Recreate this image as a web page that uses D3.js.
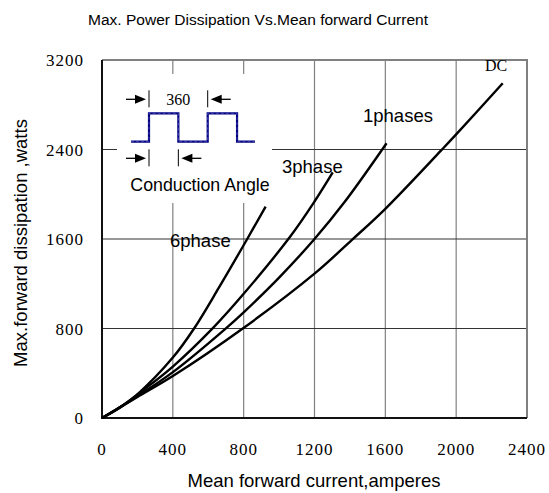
<!DOCTYPE html>
<html>
<head>
<meta charset="utf-8">
<script src="https://cdn.jsdelivr.net/npm/d3@7"></script>
<style>
  body { margin: 0; background: #fff; }
</style>
</head>
<body>
<svg id="chart" width="549" height="493"></svg>
<script>
// curves: [current A, dissipation W]
const phase6 = [[0, 0], [100, 92], [200, 212], [400, 540], [520, 800], [660, 1165], [820, 1600], [924, 1890]];
const phase3 = [[0, 0], [100, 95], [200, 210], [400, 460], [630, 810], [800, 1110], [1062, 1620], [1200, 1935], [1303, 2195]];
const phase1 = [[0, 0], [100, 94], [200, 195], [400, 410], [695, 795], [800, 945], [1000, 1255], [1200, 1600], [1372, 1935], [1607, 2456]];
const dc = [[0, 0], [100, 93], [200, 188], [400, 375], [795, 800], [1200, 1290], [1410, 1590], [1600, 1870], [1914, 2390], [2000, 2535], [2263, 2992]];

const seriesNames = ["6phase", "3phase", "1phases", "DC"];
const xTicks = [0, 400, 800, 1200, 1600, 2000, 2400];
const yTicks = [0, 800, 1600, 2400, 3200];

const svg = d3.select("#chart");

const x = d3.scaleLinear().domain([0, 2400]).range([102, 527]);
const y = d3.scaleLinear().domain([0, 3200]).range([418, 60]);

const sans = "'Liberation Sans', Arial, sans-serif";
const serif = "'Liberation Serif', 'Times New Roman', serif";

// title
svg.append("text")
    .attr("x", 258)
    .attr("y", 25)
    .attr("text-anchor", "middle")
    .attr("font-family", sans)
    .attr("font-size", 15.5)
    .attr("textLength", 340)
    .attr("lengthAdjust", "spacingAndGlyphs")
    .text("Max. Power Dissipation Vs.Mean forward Current");

// grid
svg.append("g")
    .selectAll("line")
    .data(xTicks.slice(1, -1))
    .join("line")
    .attr("x1", d => x(d)).attr("x2", d => x(d))
    .attr("y1", y(0)).attr("y2", y(3200))
    .attr("stroke", "#808080")
    .attr("stroke-width", 1.2);

svg.append("g")
    .selectAll("line")
    .data(yTicks.slice(1, -1))
    .join("line")
    .attr("x1", x(0)).attr("x2", x(2400))
    .attr("y1", d => y(d)).attr("y2", d => y(d))
    .attr("stroke", "#333")
    .attr("stroke-width", 1.2);

// top and right border
svg.append("path")
    .attr("d", `M${x(0)},${y(3200)}H${x(2400)}V${y(0)}`)
    .attr("fill", "none")
    .attr("stroke", "#808080")
    .attr("stroke-width", 2);

// tick labels
svg.append("g")
    .attr("font-family", serif)
    .attr("font-size", 17)
    .attr("text-anchor", "middle")
    .selectAll("text")
    .data(xTicks)
    .join("text")
    .attr("x", d => x(d))
    .attr("y", 455)
    .attr("letter-spacing", 1)
    .text(d => d);

svg.append("g")
    .attr("font-family", serif)
    .attr("font-size", 17)
    .attr("text-anchor", "end")
    .selectAll("text")
    .data(yTicks)
    .join("text")
    .attr("x", 84)
    .attr("y", d => y(d) + 6)
    .attr("letter-spacing", 1)
    .text(d => d);

// axis titles
svg.append("text")
    .attr("x", 314)
    .attr("y", 487)
    .attr("text-anchor", "middle")
    .attr("font-family", sans)
    .attr("font-size", 18.5)
    .text("Mean forward current,amperes");

svg.append("text")
    .attr("transform", "translate(27,243) rotate(-90)")
    .attr("text-anchor", "middle")
    .attr("font-family", sans)
    .attr("font-size", 18.5)
    .text("Max.forward dissipation ,watts");

// inset: conduction angle sketch, white box over the grid
const inset = svg.append("g");
inset.append("rect")
    .attr("x", 117).attr("y", 74)
    .attr("width", 155).attr("height", 129)
    .attr("fill", "#fff");

const deg = d3.scaleLinear().domain([0, 360]).range([149, 207.7]);
const wave = [[-110, 0], [0, 0], [0, 1], [180, 1], [180, 0], [360, 0], [360, 1], [540, 1], [540, 0], [650, 0]];
const level = d3.scaleLinear().domain([0, 1]).range([141.7, 113.3]);

inset.append("path")
    .attr("d", d3.line().x(d => deg(d[0])).y(d => level(d[1]))(wave))
    .attr("fill", "none")
    .attr("stroke", "#000080")
    .attr("stroke-width", 2.2);
inset.append("path")
    .attr("d", d3.line().x(d => deg(d[0])).y(d => level(d[1]))(wave))
    .attr("fill", "none")
    .attr("stroke", "#6a6ad0")
    .attr("stroke-width", 0.6)
    .attr("stroke-dasharray", "3,2");

function marker(pos, yy, dir) {
    // bar at pos, arrow coming from outside pointing at it
    const px = deg(pos);
    inset.append("line")
        .attr("x1", px).attr("x2", px)
        .attr("y1", yy - 9).attr("y2", yy + 8)
        .attr("stroke", "#000").attr("stroke-width", 1);
    const tip = px - dir * 3;
    inset.append("line")
        .attr("x1", tip - dir * 20).attr("x2", tip - dir * 8)
        .attr("y1", yy).attr("y2", yy)
        .attr("stroke", "#000").attr("stroke-width", 1.3);
    inset.append("path")
        .attr("d", `M${tip},${yy}L${tip - dir * 11},${yy - 4.5}L${tip - dir * 11},${yy + 4.5}Z`)
        .attr("fill", "#000");
}
marker(0, 99.3, 1);
marker(360, 99.3, -1);
marker(0, 158.3, 1);
marker(180, 158.3, -1);

inset.append("text")
    .attr("x", deg(180)).attr("y", 105)
    .attr("text-anchor", "middle")
    .attr("font-family", serif)
    .attr("font-size", 16)
    .text("360");

inset.append("text")
    .attr("x", 200).attr("y", 191)
    .attr("text-anchor", "middle")
    .attr("font-family", sans)
    .attr("font-size", 17.8)
    .text("Conduction Angle");

// left and bottom axis lines
svg.append("path")
    .attr("d", `M${x(0)},${y(3200)}V${y(0)}H${x(2400)}`)
    .attr("fill", "none")
    .attr("stroke", "#111")
    .attr("stroke-width", 2);

// curves
const line = d3.line()
    .x(d => x(d[0]))
    .y(d => y(d[1]))
    .curve(d3.curveCatmullRom.alpha(0.5));

svg.append("g")
    .selectAll("path")
    .data([phase6, phase3, phase1, dc])
    .join("path")
    .attr("d", line)
    .attr("fill", "none")
    .attr("stroke", "#000")
    .attr("stroke-width", 2.4);

// curve labels
const labels = [
    {name: seriesNames[0], x: 170, y: 247, font: sans, size: 18.5},
    {name: seriesNames[1], x: 282, y: 173, font: sans, size: 18.5},
    {name: seriesNames[2], x: 363, y: 122, font: sans, size: 18.5},
    {name: seriesNames[3], x: 485, y: 71, font: serif, size: 16}
];
svg.append("g")
    .selectAll("text")
    .data(labels)
    .join("text")
    .attr("x", d => d.x)
    .attr("y", d => d.y)
    .attr("font-family", d => d.font)
    .attr("font-size", d => d.size)
    .text(d => d.name);
</script>
</body>
</html>
